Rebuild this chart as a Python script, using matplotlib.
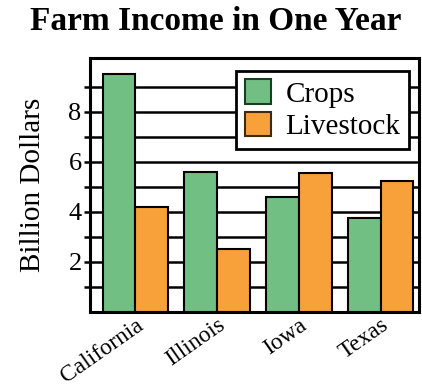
import numpy as np
import matplotlib
matplotlib.use('Agg')
import matplotlib.pyplot as plt
from matplotlib.patches import Patch

# data (billion dollars)
states = ["California", "Illinois", "Iowa", "Texas"]
crops = [9.5, 5.6, 4.6, 3.75]
livestock = [4.2, 2.5, 5.55, 5.25]
y_ticks = [2, 4, 6, 8]

green = "#72BF84"
orange = "#F8A03A"
serif = "Liberation Serif"

fig = plt.figure(figsize=(4.22, 3.90), dpi=100)
ax = fig.add_axes([90 / 422, 78 / 390, 329 / 422, 254 / 390])

x = np.arange(len(states))
w = 0.4
ax.bar(x - w / 2, crops, w, color=green, edgecolor="black", linewidth=1.5, zorder=3)
ax.bar(x + w / 2, livestock, w, color=orange, edgecolor="black", linewidth=1.5, zorder=3)

ax.set_xlim(-0.555, 3.47)
ax.set_ylim(0, 10.15)

# horizontal rules at every unit
ax.set_yticks(range(1, 10))
ax.set_yticklabels([str(v) if v in y_ticks else "" for v in range(1, 10)],
                   fontfamily=serif, fontsize=19)
ax.yaxis.grid(True, color="black", linewidth=1.8, zorder=1)
ax.set_axisbelow(True)
ax.tick_params(axis="y", length=4, width=1.8, pad=2)

ax.set_xticks(x)
ax.set_xticklabels(states, rotation=35, ha="right", rotation_mode="anchor",
                   fontfamily=serif, fontsize=17)
ax.tick_params(axis="x", length=0, pad=2)

for s in ax.spines.values():
    s.set_linewidth(2.2)

ax.set_ylabel("Billion Dollars", fontfamily=serif, fontsize=21, labelpad=16)

handles = [Patch(facecolor=green, edgecolor="#1d3d22", linewidth=1.5, label="Crops"),
           Patch(facecolor=orange, edgecolor="#3d2a10", linewidth=1.5, label="Livestock")]
leg = ax.legend(handles=handles, loc="upper right", bbox_to_anchor=(0.97, 0.95),
                prop={"family": serif, "size": 21}, fancybox=False, framealpha=1,
                edgecolor="black", borderpad=0.3, handlelength=0.9, handleheight=0.9,
                handletextpad=0.5, labelspacing=0.15, borderaxespad=0)
leg.get_frame().set_linewidth(2)
leg.set_zorder(5)

fig.text(0.51, 0.945, "Farm Income in One Year", ha="center", va="center",
         fontfamily=serif, fontweight="bold", fontsize=24)

fig.savefig("out.png", dpi=100)
